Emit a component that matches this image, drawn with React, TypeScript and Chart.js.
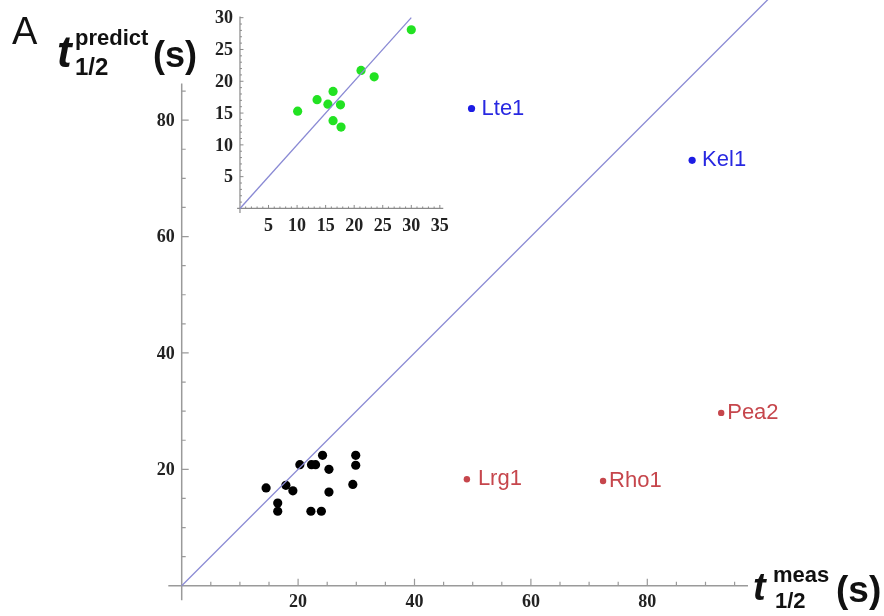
import { useEffect, useRef } from "react";
import { Chart, registerables } from "chart.js";

Chart.register(...registerables);

// ---------- data ----------
const clusterX = [14.5, 16.5, 16.5, 17.9, 19.1, 20.3, 22.3, 23.0, 24.2, 25.3, 25.3, 22.2, 24.0, 29.9, 29.9, 29.4];
const clusterY = [16.8, 14.2, 12.8, 17.25, 16.3, 20.8, 20.8, 20.8, 22.4, 20.0, 16.1, 12.8, 12.8, 22.4, 20.7, 17.4];

const blueNames = ["Lte1", "Kel1"];
const blueX = [49.8, 87.7];
const blueY = [82.0, 73.1];

const redNames = ["Lrg1", "Rho1", "Pea2"];
const redX = [49.0, 72.4, 92.7];
const redY = [18.3, 18.0, 29.7];

const mainDiag = [0, 101];
const mainXTicks = [20, 40, 60, 80];
const mainYTicks = [20, 40, 60, 80];

const insetX = [10.1, 13.5, 15.4, 16.3, 17.6, 16.3, 17.7, 21.2, 23.5, 30.0];
const insetY = [15.3, 17.1, 16.4, 18.4, 16.3, 13.8, 12.8, 21.7, 20.7, 28.1];
const insetDiag = [0, 30];
const insetXTicks = [5, 10, 15, 20, 25, 30, 35];
const insetYTicks = [5, 10, 15, 20, 25, 30];

// ---------- plugins ----------
const axesPlugin = {
  id: "mmaAxes",
  beforeDatasetsDraw(chart: any, _a: any, o: any) {
    if (!o || !o.enabled) return;
    const ctx = chart.ctx;
    const xs = chart.scales.x;
    const ys = chart.scales.y;
    const px = (v: number) => xs.getPixelForValue(v);
    const py = (v: number) => ys.getPixelForValue(v);
    const x0 = px(0);
    const y0 = py(0);
    ctx.save();
    ctx.strokeStyle = o.color;
    ctx.lineWidth = o.lineWidth;
    ctx.beginPath();
    ctx.moveTo(px(o.xRange[0]), y0);
    ctx.lineTo(px(o.xRange[1]), y0);
    ctx.moveTo(x0, py(o.yRange[0]));
    ctx.lineTo(x0, py(o.yRange[1]));
    ctx.stroke();
    ctx.lineWidth = o.tickWidth;
    ctx.beginPath();
    const nx = Math.round(o.xTickMax / o.step);
    for (let i = 1; i <= nx; i++) {
      const v = i * o.step;
      const len = o.xMajors.includes(v) || (o.majorEvery && v % o.majorEvery === 0) ? o.majorLen : o.minorLen;
      ctx.moveTo(px(v), y0);
      ctx.lineTo(px(v), y0 - len);
    }
    const ny = Math.round(o.yTickMax / o.step);
    for (let i = 1; i <= ny; i++) {
      const v = i * o.step;
      const len = o.yMajors.includes(v) || (o.majorEvery && v % o.majorEvery === 0) ? o.majorLen : o.minorLen;
      ctx.moveTo(x0, py(v));
      ctx.lineTo(x0 + len, py(v));
    }
    ctx.stroke();
    ctx.fillStyle = o.labelColor;
    ctx.font = o.font;
    ctx.textAlign = "center";
    ctx.textBaseline = "middle";
    o.xMajors.forEach((v: number) => ctx.fillText(String(v), px(v), y0 + o.xLabelOffset));
    ctx.textAlign = "right";
    o.yMajors.forEach((v: number) => ctx.fillText(String(v), x0 - o.yLabelOffset, py(v) + 1));
    ctx.restore();
  },
};

const namesPlugin = {
  id: "pointNames",
  afterDatasetsDraw(chart: any) {
    const ctx = chart.ctx;
    chart.data.datasets.forEach((ds: any, di: number) => {
      if (!ds.pointNames) return;
      const meta = chart.getDatasetMeta(di);
      ctx.save();
      ctx.fillStyle = ds.nameColor;
      ctx.font = ds.nameFont;
      ctx.textAlign = "left";
      ctx.textBaseline = "middle";
      meta.data.forEach((el: any, i: number) => {
        ctx.fillText(ds.pointNames[i], el.x + ds.nameOffset[i], el.y);
      });
      ctx.restore();
    });
  },
};

const textPlugin = {
  id: "freeText",
  afterDraw(chart: any, _a: any, o: any) {
    if (!o || !o.items) return;
    const ctx = chart.ctx;
    ctx.save();
    ctx.textAlign = "left";
    ctx.textBaseline = "alphabetic";
    o.items.forEach((it: any) => {
      ctx.font = it.font;
      ctx.fillStyle = it.color || "#111";
      ctx.fillText(it.text, it.x, it.y);
    });
    ctx.restore();
  },
};

const SANS = '"Liberation Sans", Arial, sans-serif';
const SERIF = '"Liberation Serif", "Times New Roman", serif';
const LAVENDER = "rgb(138,138,212)";

const toPts = (xs: number[], ys: number[]) => xs.map((x, i) => ({ x, y: ys[i] }));

export default function App() {
  const mainRef = useRef<HTMLCanvasElement>(null);
  const insetRef = useRef<HTMLCanvasElement>(null);

  useEffect(() => {
    const main = new Chart(mainRef.current as HTMLCanvasElement, {
      type: "scatter",
      data: {
        datasets: [
          {
            data: toPts(mainDiag, mainDiag),
            showLine: true,
            borderColor: LAVENDER,
            borderWidth: 1.3,
            pointRadius: 0,
          } as any,
          {
            data: toPts(clusterX, clusterY),
            backgroundColor: "#000",
            borderWidth: 0,
            pointRadius: 4.6,
          },
          {
            data: toPts(blueX, blueY),
            backgroundColor: "rgb(28,28,228)",
            borderWidth: 0,
            pointRadius: 3.6,
            pointNames: blueNames,
            nameColor: "rgb(40,40,225)",
            nameFont: `22px ${SANS}`,
            nameOffset: [10, 10],
          } as any,
          {
            data: toPts(redX, redY),
            backgroundColor: "rgb(198,70,76)",
            borderWidth: 0,
            pointRadius: 3.2,
            pointNames: redNames,
            nameColor: "rgb(198,70,76)",
            nameFont: `22px ${SANS}`,
            nameOffset: [11, 6, 6],
          } as any,
        ],
      },
      options: {
        responsive: false,
        animation: false,
        events: [],
        layout: { padding: 0, autoPadding: false },
        scales: {
          x: { type: "linear", display: false, min: -31.22, max: 120.67 },
          y: { type: "linear", display: false, min: -5.2, max: 100.64 },
        },
        plugins: {
          legend: { display: false },
          tooltip: { enabled: false },
          mmaAxes: {
            enabled: true,
            color: "#9a9a9a",
            lineWidth: 1.5,
            tickWidth: 1.2,
            xRange: [-2.3, 97.3],
            yRange: [-2.5, 86.3],
            step: 5,
            xTickMax: 95,
            yTickMax: 85,
            xMajors: mainXTicks,
            yMajors: mainYTicks,
            majorEvery: 0,
            majorLen: 7,
            minorLen: 4,
            font: `bold 18px ${SERIF}`,
            labelColor: "#222",
            xLabelOffset: 17,
            yLabelOffset: 7,
          },
          freeText: {
            items: [
              { text: "A", font: `38px ${SANS}`, x: 12, y: 44 },
              { text: "t", font: `italic bold 44px ${SANS}`, x: 57, y: 67 },
              { text: "predict", font: `bold 22px ${SANS}`, x: 75, y: 45 },
              { text: "1/2", font: `bold 24px ${SANS}`, x: 75, y: 75 },
              { text: "(s)", font: `bold 36px ${SANS}`, x: 153, y: 67 },
              { text: "t", font: `italic bold 38px ${SANS}`, x: 753, y: 600 },
              { text: "meas", font: `bold 22px ${SANS}`, x: 773, y: 582 },
              { text: "1/2", font: `bold 22px ${SANS}`, x: 775, y: 608 },
              { text: "(s)", font: `bold 37px ${SANS}`, x: 836, y: 602 },
            ],
          },
        } as any,
      },
      plugins: [axesPlugin, namesPlugin, textPlugin],
    });

    const inset = new Chart(insetRef.current as HTMLCanvasElement, {
      type: "scatter",
      data: {
        datasets: [
          {
            data: toPts(insetDiag, insetDiag),
            showLine: true,
            borderColor: LAVENDER,
            borderWidth: 1.3,
            pointRadius: 0,
          } as any,
          {
            data: toPts(insetX, insetY),
            backgroundColor: "rgb(34,226,34)",
            borderWidth: 0,
            pointRadius: 4.6,
          },
        ],
      },
      options: {
        responsive: false,
        animation: false,
        events: [],
        layout: { padding: 0, autoPadding: false },
        scales: {
          x: { type: "linear", display: false, min: -7.0, max: 38.53 },
          y: { type: "linear", display: false, min: -4.96, max: 32.78 },
        },
        plugins: {
          legend: { display: false },
          tooltip: { enabled: false },
          mmaAxes: {
            enabled: true,
            color: "#8a8a8a",
            lineWidth: 1.2,
            tickWidth: 1,
            xRange: [-0.5, 35.6],
            yRange: [-0.7, 30.2],
            step: 1,
            xTickMax: 35,
            yTickMax: 30,
            xMajors: insetXTicks,
            yMajors: insetYTicks,
            majorEvery: 5,
            majorLen: 3.5,
            minorLen: 2,
            font: `bold 18px ${SERIF}`,
            labelColor: "#222",
            xLabelOffset: 18,
            yLabelOffset: 7,
          },
        } as any,
      },
      plugins: [axesPlugin],
    });

    return () => {
      main.destroy();
      inset.destroy();
    };
  }, []);

  return (
    <div style={{ position: "fixed", left: 0, top: 0, width: 884, height: 616, background: "#fff", overflow: "hidden" }}>
      <canvas ref={mainRef} width={884} height={616} style={{ position: "absolute", left: 0, top: 0 }} />
      <canvas ref={insetRef} width={260} height={240} style={{ position: "absolute", left: 200, top: 0 }} />
    </div>
  );
}
